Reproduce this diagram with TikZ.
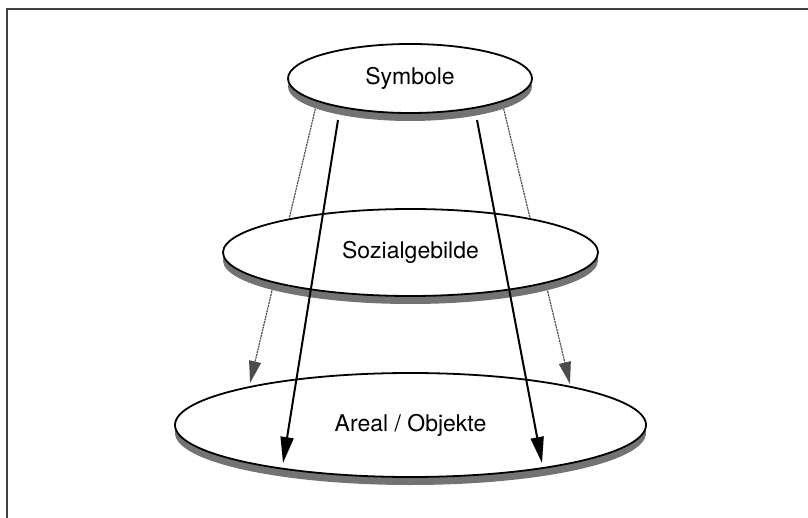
\documentclass[tikz,border=0pt]{standalone}
\usepackage{fontspec}
\setmainfont{TeX Gyre Heros}
\usetikzlibrary{arrows.meta,shapes.geometric,shadows}
\begin{document}
\begin{tikzpicture}[x=0.5pt,y=-0.5pt,
  layer/.style={ellipse,draw=black,line width=0.9pt,fill=white,inner sep=0pt,outer sep=0pt,
    font=\fontsize{11.5}{13}\selectfont,
    drop shadow={shadow xshift=0pt,shadow yshift=-4pt,fill=black!55,opacity=1}},
  mainarrow/.style={line width=1pt,-{Triangle[length=13pt,width=6.5pt]}},
  sidearrow/.style={black!70,line width=0.6pt,dash pattern=on 1pt off 0.4pt,
    -{Triangle[length=11pt,width=6pt]}},
  frame/.style={black!75,line width=1pt}]
\useasboundingbox (0,0) rectangle (808,518);
\draw[frame] (7,518) -- (7,9) -- (808,9);
% start and end points of the connectors
\coordinate (sL) at (338,120);
\coordinate (sR) at (477,120);
\coordinate (dL) at (316,106);
\coordinate (dR) at (503,106);
\coordinate (tL) at (283,463);
\coordinate (tR) at (542,463);
\coordinate (uL) at (250,383);
\coordinate (uR) at (570,384);
% bottom layer
\node[layer,minimum width=235.5pt,minimum height=52pt] (are) at (410.5,425) {Areal / Objekte};
% side arrows (behind Sozialgebilde)
\draw[sidearrow] (dL) -- (uL);
\draw[sidearrow] (dR) -- (uR);
% middle layer
\node[layer,minimum width=187.5pt,minimum height=43.5pt] (soz) at (410.5,252.5) {Sozialgebilde};
% main arrows
\draw[mainarrow] (sL) -- (tL);
\draw[mainarrow] (sR) -- (tR);
% top layer
\node[layer,minimum width=122pt,minimum height=34.5pt] (sym) at (410,78.5) {Symbole};
\end{tikzpicture}
\end{document}
